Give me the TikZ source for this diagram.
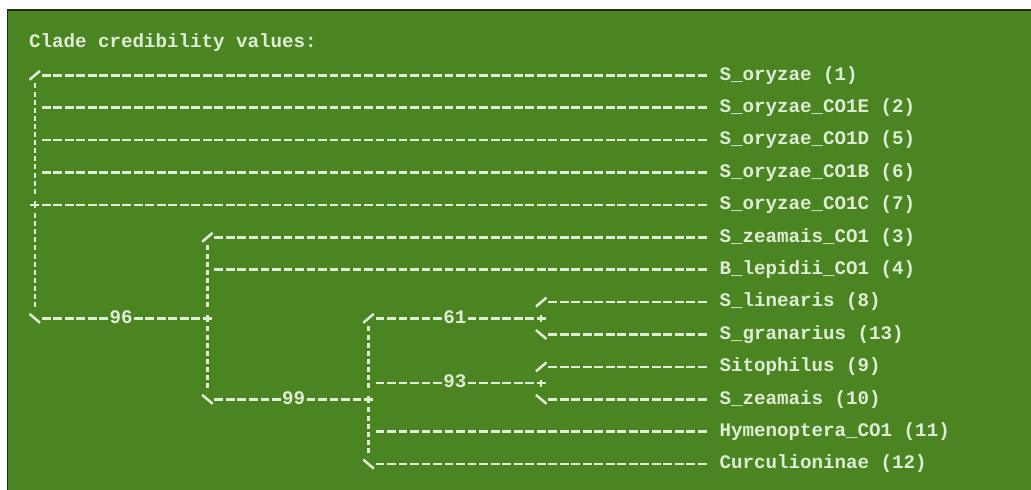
\documentclass[tikz,border=0pt]{standalone}
\usepackage{fontspec}
\newfontfamily\lmono{Liberation Mono}
\definecolor{bg}{RGB}{74,133,34}
\definecolor{fg}{RGB}{224,237,214}
\definecolor{edgec}{RGB}{28,48,18}
\tikzset{
  txt/.style={font=\lmono\bfseries\fontsize{19.18pt}{16.2pt}\selectfont, text=fg,
    inner sep=0pt, outer sep=0pt, anchor=west, text height=12.9pt, text depth=3.5pt},
  cellbox/.style={rectangle, minimum width=11.51pt, minimum height=16.2pt, inner sep=0pt, outer sep=0pt},
  glyph/.style={draw=fg, line width=2.5pt, solid},
  slashg/.style={cellbox, path picture={\draw[glyph]
      ([shift={(-5.3pt,-4.5pt)}]path picture bounding box.center) --
      ([shift={(5.3pt,4.5pt)}]path picture bounding box.center);}},
  bslashg/.style={cellbox, path picture={\draw[glyph]
      ([shift={(-5.3pt,4.5pt)}]path picture bounding box.center) --
      ([shift={(5.3pt,-4.5pt)}]path picture bounding box.center);}},
  plusg/.style={cellbox, path picture={\draw[glyph]
      ([xshift=-4.55pt]path picture bounding box.center) --
      ([xshift=4.45pt]path picture bounding box.center)
      ([yshift=-3.5pt]path picture bounding box.center) --
      ([yshift=3.5pt]path picture bounding box.center);}},
  hdash/.style={draw=fg, line width=2.5pt, dash pattern=on 8.8pt off 2.71pt, dash phase=10.21pt},
  tdash/.style={hdash, shorten >=11.51pt},
  vdash/.style={draw=fg, line width=2.5pt, dash pattern=on 5pt off 3.1pt}
}
\begin{document}
\begin{tikzpicture}[x=1pt,y=-1pt]
\useasboundingbox (0,0) rectangle (1031,490);
\fill[white] (0,0) rectangle (1031,490);
\fill[bg] (7.5,10) rectangle (1031,490);
\draw[edgec, line width=1.5pt] (7.5,490) -- (7.5,10) -- (1031,10);

% title
\node[txt] (title) at (29,42.9) {Clade credibility values:};

% taxa
\node[txt] (t1)  at (719.6,75.3)  {S\_oryzae (1)};
\node[txt] (t2)  at (719.6,107.7) {S\_oryzae\_CO1E (2)};
\node[txt] (t5)  at (719.6,140.1) {S\_oryzae\_CO1D (5)};
\node[txt] (t6)  at (719.6,172.5) {S\_oryzae\_CO1B (6)};
\node[txt] (t7)  at (719.6,204.9) {S\_oryzae\_CO1C (7)};
\node[txt] (t3)  at (719.6,237.3) {S\_zeamais\_CO1 (3)};
\node[txt] (t4)  at (719.6,269.7) {B\_lepidii\_CO1 (4)};
\node[txt] (t8)  at (719.6,302.1) {S\_linearis (8)};
\node[txt] (t13) at (719.6,334.5) {S\_granarius (13)};
\node[txt] (t9)  at (719.6,366.9) {Sitophilus (9)};
\node[txt] (t10) at (719.6,399.3) {S\_zeamais (10)};
\node[txt] (t11) at (719.6,431.7) {Hymenoptera\_CO1 (11)};
\node[txt] (t12) at (719.6,464.1) {Curculioninae (12)};

% support values
\node[txt] (s96) at (109.57,318.3) {96};
\node[txt] (s99) at (282.22,399.3) {99};
\node[txt] (s61) at (443.36,318.3) {61};
\node[txt] (s93) at (443.36,383.1) {93};

% column 0
\node[slashg]  (r0)  at (34.755,75.3) {};
\node[cellbox] (j2)  at (34.755,107.7) {};
\node[cellbox] (j4)  at (34.755,140.1) {};
\node[cellbox] (j6)  at (34.755,172.5) {};
\node[plusg]   (p8)  at (34.755,204.9) {};
\node[bslashg] (r15) at (34.755,318.3) {};
% column 15
\node[slashg]  (a10) at (207.405,237.3) {};
\node[cellbox] (a12) at (207.405,269.7) {};
\node[plusg]   (pA)  at (207.405,318.3) {};
\node[bslashg] (a20) at (207.405,399.3) {};
% column 29
\node[slashg]  (b15) at (368.545,318.3) {};
\node[cellbox] (b19) at (368.545,383.1) {};
\node[plusg]   (pB)  at (368.545,399.3) {};
\node[cellbox] (b22) at (368.545,431.7) {};
\node[bslashg] (b24) at (368.545,464.1) {};
% column 44
\node[slashg]  (c14) at (541.195,302.1) {};
\node[plusg]   (pC)  at (541.195,318.3) {};
\node[bslashg] (c16) at (541.195,334.5) {};
\node[slashg]  (d18) at (541.195,366.9) {};
\node[plusg]   (pD)  at (541.195,383.1) {};
\node[bslashg] (d20) at (541.195,399.3) {};

% vertical connectors
\draw[vdash] (r0.south) -- (p8.north);
\draw[vdash] (p8.south) -- (r15.north);
\draw[vdash] (a10.south) -- (pA.north);
\draw[vdash] (pA.south) -- (a20.north);
\draw[vdash] (b15.south) -- (pB.north);
\draw[vdash] (pB.south) -- (b24.north);

% horizontal connectors to taxa
\draw[tdash] (r0.east) -- (t1.west);
\draw[tdash] (j2.east) -- (t2.west);
\draw[tdash] (j4.east) -- (t5.west);
\draw[tdash] (j6.east) -- (t6.west);
\draw[tdash] (p8.east) -- (t7.west);
\draw[tdash] (a10.east) -- (t3.west);
\draw[tdash] (a12.east) -- (t4.west);
\draw[tdash] (c14.east) -- (t8.west);
\draw[tdash] (c16.east) -- (t13.west);
\draw[tdash] (d18.east) -- (t9.west);
\draw[tdash] (d20.east) -- (t10.west);
\draw[tdash] (b22.east) -- (t11.west);
\draw[tdash] (b24.east) -- (t12.west);

% internal branches with support values
\draw[hdash] (r15.east) -- (s96.west);
\draw[hdash] (s96.east) -- (pA.west);
\draw[hdash] (a20.east) -- (s99.west);
\draw[hdash] (s99.east) -- (pB.west);
\draw[hdash] (b15.east) -- (s61.west);
\draw[hdash] (s61.east) -- (pC.west);
\draw[hdash] (b19.east) -- (s93.west);
\draw[hdash] (s93.east) -- (pD.west);
\end{tikzpicture}
\end{document}
